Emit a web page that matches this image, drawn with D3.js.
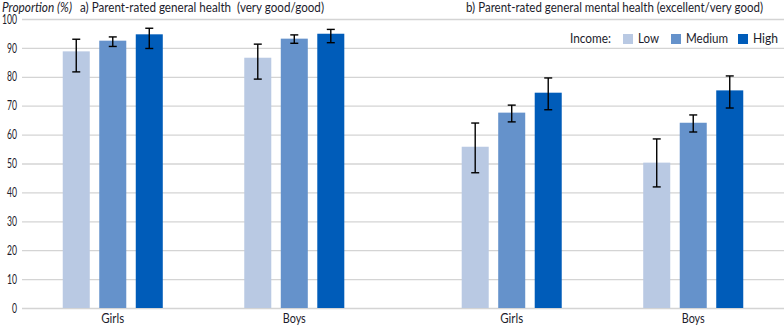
<!DOCTYPE html>
<html>
<head>
<meta charset="utf-8">
<script src="https://cdn.jsdelivr.net/npm/d3@7"></script>
<style>
  body { margin: 0; background: #fff; }
  svg { display: block; font-family: Lato, "Open Sans", sans-serif; }
</style>
</head>
<body>
<div id="chart"></div>
<script>
// panels and categories
var panels = ["a", "b"];
var panelTitles = [
    "a) Parent-rated general health  (very good/good)",
    "b) Parent-rated general mental health (excellent/very good)"
];
var groups = ["Girls", "Boys"];
var incomes = ["Low", "Medium", "High"];
var incomeColors = ["#b9c9e3", "#6592cb", "#005cb9"];
var yTicks = [0, 10, 20, 30, 40, 50, 60, 70, 80, 90, 100];

// a) general health, rows = Girls, Boys; cols = Low, Medium, High
var healthValue = [[88.8, 92.5, 94.7], [86.6, 93.2, 94.9]];
var healthLow   = [[81.7, 90.5, 89.8], [79.2, 91.6, 91.8]];
var healthHigh  = [[93.0, 93.8, 96.8], [91.3, 94.5, 96.4]];

// b) general mental health
var mentalValue = [[55.8, 67.6, 74.5], [50.3, 64.1, 75.3]];
var mentalLow   = [[46.8, 64.4, 68.6], [41.9, 60.9, 69.2]];
var mentalHigh  = [[64.0, 70.2, 79.6], [58.5, 66.8, 80.3]];

var width = 784, height = 326;
var margin = {top: 19, right: 0, bottom: 18, left: 22};
var textColor = "#1c1c2c";
var fontSize = "13px";
var titleY = 12;

// the original font is narrow (Gill Sans like), squeeze text to its widths
function fit(sel, w) {
    sel.attr("textLength", w).attr("lengthAdjust", "spacingAndGlyphs");
}

var svg = d3.select("#chart").append("svg")
    .attr("width", width)
    .attr("height", height);

var y = d3.scaleLinear()
    .domain([0, 100])
    .range([height - margin.bottom, margin.top]);

var xPanel = d3.scaleBand()
    .domain(panels)
    .range([margin.left, width - margin.right])
    .paddingInner(0.09);

var xGroup = d3.scaleBand()
    .domain(groups)
    .range([0, xPanel.bandwidth()]);

var xBar = d3.scaleBand()
    .domain(incomes)
    .range([0, xGroup.bandwidth()])
    .paddingInner(0.26)
    .paddingOuter(1.116);

var color = d3.scaleOrdinal().domain(incomes).range(incomeColors);

// gridlines + y labels
var yAxis = svg.append("g")
    .attr("transform", `translate(${margin.left}, 0)`)
    .call(d3.axisLeft(y).tickValues(yTicks).tickSize(-(width - margin.left)).tickPadding(5));
yAxis.select(".domain").remove();
yAxis.selectAll(".tick line")
    .attr("stroke", "#d4d4d4")
    .attr("stroke-width", 1.3);
yAxis.selectAll(".tick text")
    .attr("fill", textColor)
    .style("font-size", fontSize)
    .style("font-family", "Lato, sans-serif")
    .each(function(d) {
        fit(d3.select(this), String(d).length * 5);
    });

// titles
fit(svg.append("text")
    .attr("x", 2)
    .attr("y", titleY)
    .style("font-size", fontSize)
    .style("font-style", "italic")
    .attr("fill", textColor)
    .text("Proportion (%)"), 70);

var panelData = [
    {value: healthValue, low: healthLow, high: healthHigh},
    {value: mentalValue, low: mentalLow, high: mentalHigh}
];

var titleX = [80, 466];
var titleW = [244, 297];

panels.forEach(function(p, pi) {
    fit(svg.append("text")
        .attr("x", titleX[pi])
        .attr("y", titleY)
        .style("font-size", fontSize)
        .attr("fill", textColor)
        .style("white-space", "pre")
        .text(panelTitles[pi]), titleW[pi]);

    var pg = svg.append("g")
        .attr("transform", `translate(${xPanel(p)}, 0)`);

    groups.forEach(function(g, gi) {
        var gg = pg.append("g")
            .attr("transform", `translate(${xGroup(g)}, 0)`);

        var rows = incomes.map(function(inc, ii) {
            return {
                income: inc,
                value: panelData[pi].value[gi][ii],
                low: panelData[pi].low[gi][ii],
                high: panelData[pi].high[gi][ii]
            };
        });

        gg.selectAll("rect.bar")
            .data(rows)
            .enter()
            .append("rect")
            .attr("class", "bar")
            .attr("x", d => xBar(d.income))
            .attr("y", d => y(d.value))
            .attr("width", xBar.bandwidth())
            .attr("height", d => y(0) - y(d.value))
            .attr("fill", d => color(d.income));

        var err = gg.selectAll("g.err")
            .data(rows)
            .enter()
            .append("g")
            .attr("class", "err")
            .attr("stroke", "#000")
            .attr("stroke-width", 1.4);
        var cx = d => xBar(d.income) + xBar.bandwidth() / 2;
        err.append("line")
            .attr("x1", cx).attr("x2", cx)
            .attr("y1", d => y(d.low)).attr("y2", d => y(d.high));
        err.append("line")
            .attr("x1", d => cx(d) - 4).attr("x2", d => cx(d) + 4)
            .attr("y1", d => y(d.low)).attr("y2", d => y(d.low));
        err.append("line")
            .attr("x1", d => cx(d) - 4).attr("x2", d => cx(d) + 4)
            .attr("y1", d => y(d.high)).attr("y2", d => y(d.high));

        fit(gg.append("text")
            .attr("x", xGroup.bandwidth() / 2)
            .attr("y", height - 3)
            .style("text-anchor", "middle")
            .style("font-size", fontSize)
            .attr("fill", textColor)
            .text(g), 23);
    });
});

// legend
var legend = svg.append("g");
fit(legend.append("text")
    .attr("x", 570)
    .attr("y", 43)
    .style("font-size", fontSize)
    .attr("fill", textColor)
    .text("Income:"), 41);
var legendX = [623, 671, 738];
var legendW = [21, 42, 25];
incomes.forEach(function(inc, i) {
    legend.append("rect")
        .attr("x", legendX[i])
        .attr("y", 34)
        .attr("width", 10)
        .attr("height", 10)
        .attr("fill", color(inc));
    fit(legend.append("text")
        .attr("x", legendX[i] + 15)
        .attr("y", 43)
        .style("font-size", fontSize)
        .attr("fill", textColor)
        .text(inc), legendW[i]);
});
</script>
</body>
</html>
